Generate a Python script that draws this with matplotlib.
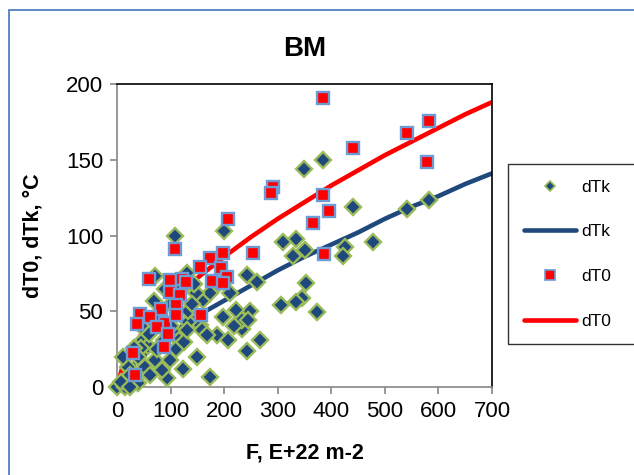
import matplotlib
matplotlib.use("Agg")
import matplotlib.pyplot as plt
from matplotlib.lines import Line2D
from matplotlib.patches import Rectangle

plt.rcParams['font.family'] = ['Liberation Sans', 'DejaVu Sans']

# dTk scatter (F, dTk)
dtk_f = [384, 349, 440, 582, 542, 477, 426, 421, 334, 309, 351, 328, 353, 345, 335, 373, 307,
         108, 200, 242, 261, 161, 70, 198, 248, 223, 187, 208, 242, 267, 234, 233, 174, 123, 93,
         0, 15, 155, 133, 70, 49, 58, 71, 99, 52, 21, 12, 34, 62, 84, 174, 211, 132, 107, 115,
         87, 218, 148, 144, 188, 69, 57, 44, 31, 158, 168, 245, 80, 100, 120, 90, 130, 140, 60,
         75, 110, 100, 40, 25, 8, 125, 150, 45, 40, 24, 130]
dtk_v = [149.8, 143.7, 118.6, 123.4, 117.5, 95.5, 92.6, 86.7, 98, 96, 90.4, 86.7, 68.8, 58.5,
         56.3, 49.3, 54, 99.7, 103.2, 74, 69, 57.4, 73, 46.4, 50.4, 50.8, 34.3, 31, 24, 31, 38,
         44, 6.8, 11.7, 5.7, 0, 0, 41, 43, 40, 31, 27, 17.8, 17.8, 13.4, 13.4, 20, 5, 8, 11,
         61.8, 61.8, 50, 36, 31, 31, 40, 62, 68, 68, 57, 42, 26, 26, 37.6, 34, 44, 45, 55, 65,
         65, 75, 55, 35, 25, 25, 40, 20, 8, 3, 30, 20, 40, 2.4, 0, 37.6]

# dT0 scatter (F, dT0)
dt0_f = [384, 582, 542, 440, 578, 385, 396, 366, 387, 292, 287, 207, 108, 198, 254, 174, 154,
         195, 205, 60, 99, 121, 129, 178, 198, 98, 118, 110, 82, 42, 37, 62, 90, 110, 156, 74,
         96, 88, 30, 34]
dt0_v = [190.5, 175.8, 167.9, 157.5, 148.5, 126.7, 116.4, 108, 87.8, 131.8, 128, 110.7, 90.9,
         88.7, 88.7, 85.4, 79, 78.3, 72.4, 71, 70.6, 71, 69.5, 70, 68.8, 62.9, 60.7, 54.1, 51.3,
         48.2, 41.6, 46, 42, 47.5, 47.5, 39.4, 35, 26.2, 22.7, 7.9]

# trend lines
line_f = [0, 10, 25, 50, 100, 150, 200, 250, 300, 350, 400, 450, 500, 550, 600, 650, 700]
dtk_line = [0, 6, 13, 21, 35, 47, 57, 67, 77, 86, 94, 102, 111, 119, 126, 134, 141]
dt0_line = [0, 13, 24, 37, 56, 72, 86, 99, 111, 122, 133, 143, 153, 162, 171, 180, 188]

NAVY = '#1F497D'
GREEN = '#9BBB59'
RED = '#FF0000'
LBLUE = '#6E9BD3'

fig = plt.figure(figsize=(6.34, 4.75), dpi=100)
ax = fig.add_axes([117 / 634, 1 - 387 / 475, 375 / 634, 303 / 475])

ax.plot(line_f, dtk_line, color=NAVY, lw=3.3, zorder=2, solid_capstyle='round')
ax.plot(line_f, dt0_line, color=RED, lw=3.3, zorder=2, solid_capstyle='round')
ax.plot(dtk_f, dtk_v, 'D', ms=8.6, mfc=NAVY, mec=GREEN, mew=1.7, ls='none', zorder=3,
        clip_on=False)
ax.plot(dt0_f, dt0_v, 's', ms=9.2, mfc=RED, mec=LBLUE, mew=1.7, ls='none', zorder=4,
        clip_on=False)

ax.set_xlim(0, 700)
ax.set_ylim(0, 200)
ax.set_xticks(range(0, 701, 100))
ax.set_yticks(range(0, 201, 50))
ax.tick_params(labelsize=16, length=5, width=1.2, color='#868686', pad=5)
for s in ['left', 'bottom']:
    ax.spines[s].set_color('#868686')
    ax.spines[s].set_linewidth(1.2)
for s in ['top', 'right']:
    ax.spines[s].set_color('black')
    ax.spines[s].set_linewidth(1.2)

ax.set_title('BM', fontsize=20, fontweight='bold', pad=20)
ax.set_xlabel('F, E+22 m-2', fontsize=15.5, fontweight='bold', labelpad=15)
ax.set_ylabel('dT0, dTk, °C', fontsize=15.5, fontweight='bold', labelpad=16)

handles = [
    Line2D([], [], marker='D', ls='none', ms=5, mfc=NAVY, mec=GREEN, mew=1.2),
    Line2D([], [], color=NAVY, lw=3.3, solid_capstyle='round'),
    Line2D([], [], marker='s', ls='none', ms=6.5, mfc=RED, mec=LBLUE, mew=1.2),
    Line2D([], [], color=RED, lw=3.3, solid_capstyle='round'),
]
labels = ['dTk', 'dTk', 'dT0', 'dT0']
leg = fig.legend(handles, labels, loc='upper left',
                 bbox_to_anchor=(508 / 634, 1 - 164 / 475, 0.3, 0.0001), mode='expand',
                 fontsize=12.5, frameon=True, fancybox=False, edgecolor='black',
                 handlelength=3.0, handletextpad=0.3, labelspacing=1.7, borderpad=0.9,
                 borderaxespad=0)
leg.get_frame().set_linewidth(1.0)

# outer chart border
fig.patches.append(Rectangle((9 / 634, -0.1), 1.0, 1 - 10 / 475 + 0.1,
                             transform=fig.transFigure, fill=False, edgecolor='#4F81BD',
                             lw=1.3, zorder=0))

fig.savefig('out.png', dpi=100)
